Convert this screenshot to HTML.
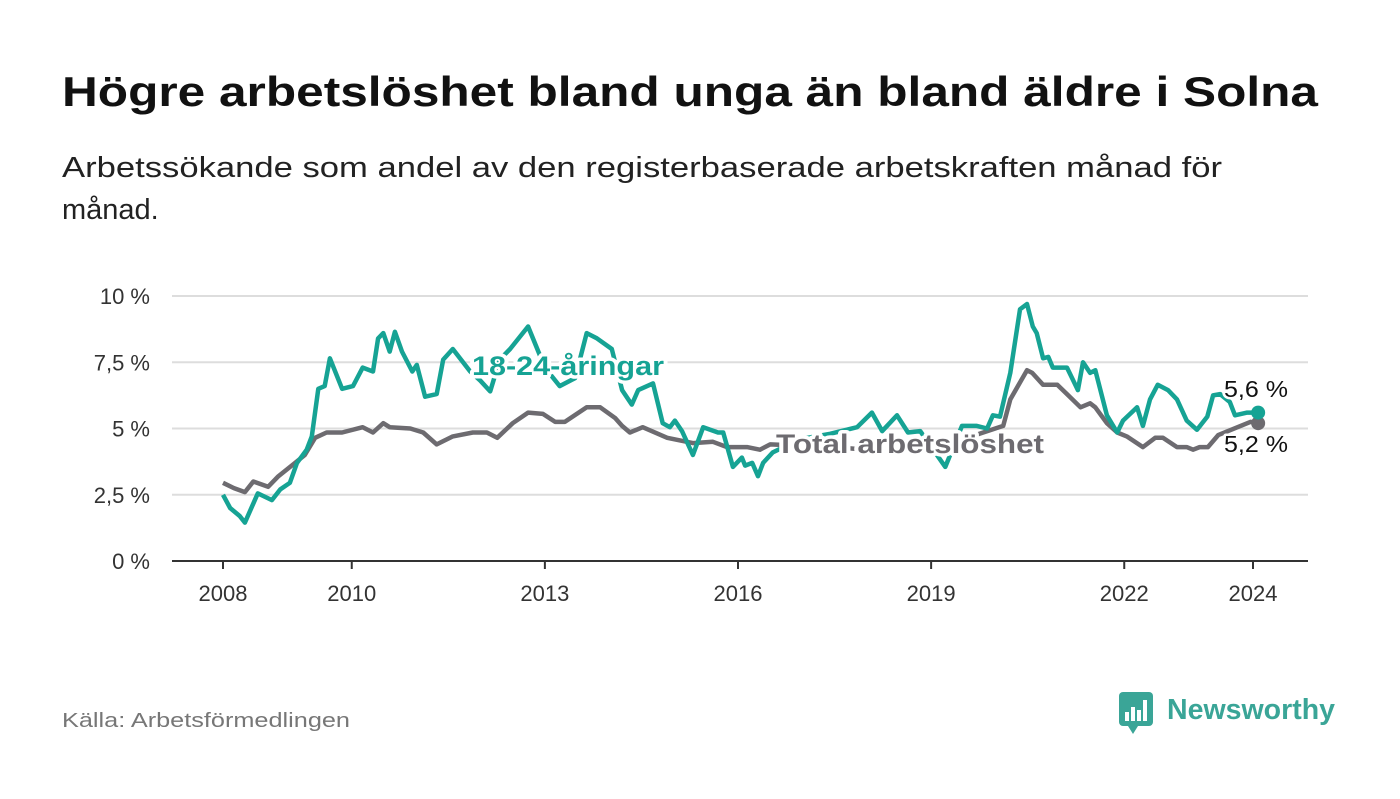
<!DOCTYPE html>
<html><head><meta charset="utf-8"><style>
body{margin:0;background:#fff;}
svg text{font-family:"Liberation Sans",sans-serif;}
</style></head><body>
<svg id="chart" width="1400" height="794" viewBox="0 0 1400 794">
<text x="62" y="106" font-size="42" font-weight="bold" fill="#111" textLength="1256" lengthAdjust="spacingAndGlyphs">Högre arbetslöshet bland unga än bland äldre i Solna</text>
<text x="62" y="177" font-size="29" fill="#222" textLength="1160" lengthAdjust="spacingAndGlyphs">Arbetssökande som andel av den registerbaserade arbetskraften månad för</text>
<text x="62" y="219" font-size="29" fill="#222">månad.</text>
<g id="grid"></g><g id="lines"></g><g id="labels"></g>
<text x="62" y="727" font-size="20" fill="#777" textLength="288" lengthAdjust="spacingAndGlyphs">Källa: Arbetsförmedlingen</text>
<g>
<rect x="1119" y="692" width="34" height="34" rx="4" fill="#3aa597"/>
<polygon points="1128,726 1138,726 1133,734" fill="#3aa597"/>
<rect x="1125" y="712" width="4" height="9" fill="#fff"/><rect x="1131" y="707" width="4" height="14" fill="#fff"/><rect x="1137" y="710" width="4" height="11" fill="#fff"/><rect x="1143" y="700" width="4" height="21" fill="#fff"/>
<text x="1167" y="719" font-size="29" font-weight="bold" fill="#3aa597" textLength="168" lengthAdjust="spacingAndGlyphs">Newsworthy</text>
</g>
</svg>
<script>
const yTicks=[0,2.5,5,7.5,10];
const yTickLabels=["0 %","2,5 %","5 %","7,5 %","10 %"];
const xTicks=[2008,2010,2013,2016,2019,2022,2024];
const youngX=[0,0.11,0.26,0.34,0.54,0.76,0.89,1.04,1.15,1.30,1.38,1.48,1.58,1.66,1.85,2.02,2.17,2.33,2.41,2.49,2.59,2.67,2.78,2.94,3.01,3.14,3.32,3.42,3.57,3.84,4.0,4.15,4.30,4.46,4.74,5.0,5.23,5.47,5.65,5.81,6.04,6.20,6.35,6.45,6.68,6.83,6.94,7.02,7.13,7.30,7.46,7.69,7.77,7.92,8.06,8.11,8.22,8.31,8.39,8.54,8.97,9.43,9.85,10.08,10.24,10.47,10.64,10.83,11.22,11.48,11.71,11.87,11.96,12.07,12.23,12.38,12.49,12.58,12.64,12.74,12.82,12.89,13.11,13.28,13.36,13.47,13.55,13.73,13.89,13.98,14.2,14.29,14.4,14.52,14.68,14.82,14.97,15.13,15.29,15.38,15.49,15.64,15.72,15.91,16.08];
const youngY=[2.5,2.0,1.7,1.45,2.55,2.3,2.7,2.95,3.7,4.2,4.7,6.5,6.6,7.65,6.5,6.6,7.3,7.15,8.4,8.6,7.9,8.65,7.9,7.15,7.4,6.2,6.3,7.6,8.0,7.15,6.8,6.4,7.6,8.0,8.85,7.3,6.6,6.9,8.6,8.4,8.0,6.45,5.9,6.45,6.7,5.2,5.05,5.3,4.9,4.0,5.05,4.85,4.85,3.55,3.9,3.6,3.7,3.2,3.7,4.1,4.6,4.8,5.05,5.6,4.9,5.5,4.85,4.9,3.55,5.1,5.1,5.0,5.5,5.45,7.1,9.5,9.7,8.85,8.6,7.65,7.7,7.3,7.3,6.45,7.5,7.1,7.2,5.5,4.85,5.3,5.8,5.1,6.1,6.65,6.45,6.1,5.3,4.95,5.45,6.25,6.3,6.0,5.5,5.6,5.6];
const totalX=[0,0.17,0.34,0.47,0.70,0.86,1.12,1.27,1.43,1.61,1.85,2.17,2.33,2.49,2.59,2.91,3.11,3.32,3.57,3.88,4.10,4.26,4.50,4.74,4.97,5.16,5.31,5.65,5.86,6.09,6.20,6.32,6.52,6.90,7.30,7.61,7.83,8.14,8.34,8.50,9.0,9.5,10.0,10.5,11.0,11.5,12.12,12.23,12.49,12.57,12.74,12.96,13.11,13.32,13.47,13.55,13.73,13.89,14.04,14.29,14.48,14.60,14.82,14.97,15.07,15.17,15.30,15.46,15.96,16.08];
const totalY=[2.95,2.75,2.6,3.0,2.8,3.2,3.7,4.0,4.65,4.85,4.85,5.05,4.85,5.2,5.05,5.0,4.85,4.4,4.7,4.85,4.85,4.65,5.2,5.6,5.55,5.25,5.25,5.8,5.8,5.4,5.1,4.85,5.05,4.65,4.45,4.5,4.3,4.3,4.2,4.4,4.35,4.3,4.2,4.3,4.4,4.6,5.1,6.1,7.2,7.1,6.65,6.65,6.3,5.8,5.95,5.8,5.2,4.85,4.7,4.3,4.65,4.65,4.3,4.3,4.2,4.3,4.3,4.75,5.25,5.2];
const NS="http://www.w3.org/2000/svg";
const xs=t=>223+t*64.375, ys=v=>561-v*26.5;
const grid=document.getElementById('grid'),lines=document.getElementById('lines'),labels=document.getElementById('labels');
function mk(tag,attrs,parent){const e=document.createElementNS(NS,tag);for(const k in attrs)e.setAttribute(k,attrs[k]);parent.appendChild(e);return e;}
yTicks.forEach((v,i)=>{
  if(v>0){const l=mk('line',{x1:172,x2:1308,y1:ys(v),y2:ys(v),stroke:'#ddd','stroke-width':2},grid);
  
  }
  const t=mk('text',{x:150,y:ys(v)+8,'text-anchor':'end','font-size':22,fill:'#333'},grid);
  t.textContent=yTickLabels[i];
  
  
});
const ax=mk('line',{x1:172,x2:1308,y1:561,y2:561,stroke:'#333','stroke-width':2},grid);


xTicks.forEach(y=>{
  const x=xs(y-2008);
  mk('line',{x1:x,x2:x,y1:561,y2:569,stroke:'#333','stroke-width':2},grid);
  const t=mk('text',{x:x,y:601,'text-anchor':'middle','font-size':22,fill:'#333'},grid);
  t.textContent=y;
  
  
});
function path(X,Y,color,name){
  const d=X.map((x,i)=>(i?'L':'M')+xs(x).toFixed(1)+','+ys(Y[i]).toFixed(1)).join('');
  const p=mk('path',{d:d,fill:'none',stroke:color,'stroke-width':4.5,'stroke-linejoin':'round'},lines);
  
  
  const c=mk('circle',{cx:xs(X[X.length-1]),cy:ys(Y[Y.length-1]),r:7,fill:color},lines);
  
  
}
path(totalX,totalY,'#6d6b70','total-line');
path(youngX,youngY,'#16a394','youth-line');
function lab(x,y,txt,color,size,bold,name,len){
  const t=mk('text',{x:x,y:y,'font-size':size,'font-weight':bold?'bold':'normal',fill:color,stroke:'#fff','stroke-width':bold?7:5,'paint-order':'stroke','stroke-linejoin':'round'},labels);
  if(len){t.setAttribute('textLength',len);t.setAttribute('lengthAdjust','spacingAndGlyphs');}
  t.textContent=txt;
  
  
}
lab(472,375,'18-24-åringar','#16a394',27,true,'youth-series-label',192);
lab(776,453,'Total arbetslöshet','#6d6b70',27,true,'total-series-label',268);
lab(1224,397,'5,6 %','#111',23,false,'youth-end-value',64);
lab(1224,452,'5,2 %','#111',23,false,'total-end-value',64);
</script>
</body></html>
